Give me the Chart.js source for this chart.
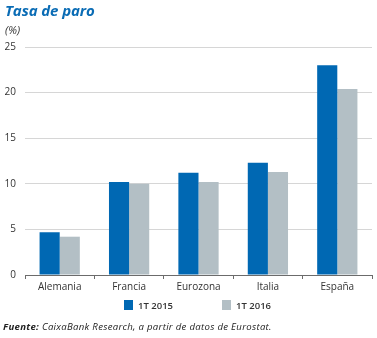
<!DOCTYPE html>
<html>
<head>
<meta charset="utf-8">
<script src="https://cdn.jsdelivr.net/npm/chart.js@4"></script>
<style>
  html, body { margin: 0; padding: 0; background: #fff; }
  body { width: 377px; height: 338px; position: relative; overflow: hidden; font-family: "Open Sans", sans-serif; }
  #wrap { position: absolute; left: 0; top: 0; width: 377px; height: 338px; }
  .title { position: absolute; left: 5px; top: 0px; font-size: 15px; font-weight: bold; font-style: italic; color: #0a6cb5; letter-spacing: -0.1px; }
  .unit { position: absolute; left: 5px; top: 22px; font-size: 11px; font-style: italic; color: #333; }
  .legend { position: absolute; top: 299px; left: 0; width: 377px; font-size: 9.5px; font-weight: 600; color: #333; }
  .legend span.item { position: absolute; top: 0; white-space: nowrap; }
  .legend i { display: inline-block; width: 9px; height: 10px; vertical-align: -1px; margin-right: 5px; }
  .foot { position: absolute; left: 3px; top: 320px; font-size: 9.6px; font-style: italic; color: #222; white-space: nowrap; letter-spacing: 0.3px; }
</style>
</head>
<body>
<div id="wrap"><canvas id="chart" width="377" height="338"></canvas></div>
<div class="title">Tasa de paro</div>
<div class="unit">(%)</div>
<div class="legend">
  <span class="item" style="left:124px"><i style="background:#0068b3"></i>1T 2015</span>
  <span class="item" style="left:222px"><i style="background:#b3bfc5"></i>1T 2016</span>
</div>
<div class="foot"><b>Fuente:</b> CaixaBank Research, a partir de datos de Eurostat.</div>
<script>
const categories = ["Alemania", "Francia", "Eurozona", "Italia", "España"];
const series2015 = [4.7, 10.2, 11.2, 12.3, 23.0];
const series2016 = [4.2, 10.0, 10.2, 11.3, 20.4];
const yTicks = [0, 5, 10, 15, 20, 25];

new Chart(document.getElementById("chart").getContext("2d"), {
    type: "bar",
    data: {
        labels: categories,
        datasets: [
            { label: "1T 2015", data: series2015, backgroundColor: "#0068b3", barPercentage: 1, categoryPercentage: 0.58 },
            { label: "1T 2016", data: series2016, backgroundColor: "#b3bfc5", barPercentage: 1, categoryPercentage: 0.58 }
        ]
    },
    options: {
        responsive: false,
        animation: false,
        layout: { padding: { top: 47, bottom: 43, left: 0, right: 5 } },
        scales: {
            x: {
                offset: true,
                grid: { offset: true, drawOnChartArea: false, drawTicks: true, tickLength: 4, color: "#6b6b6b" },
                border: { display: true, color: "#6b6b6b", width: 1 },
                ticks: { color: "#333", font: { family: "Open Sans", size: 10 }, padding: 2 },
                afterFit: (s) => { s.height = 20; }
            },
            y: {
                min: 0, max: 25,
                afterBuildTicks: (s) => { s.ticks = yTicks.map(v => ({ value: v })); },
                grid: { color: "#d6d6d6", drawTicks: false },
                border: { display: false },
                ticks: { color: "#333", font: { family: "Open Sans", size: 10 }, padding: 9 },
                afterFit: (s) => { s.width = 25; }
            }
        },
        plugins: { legend: { display: false }, tooltip: { enabled: false } }
    }
});
</script>
</body>
</html>
